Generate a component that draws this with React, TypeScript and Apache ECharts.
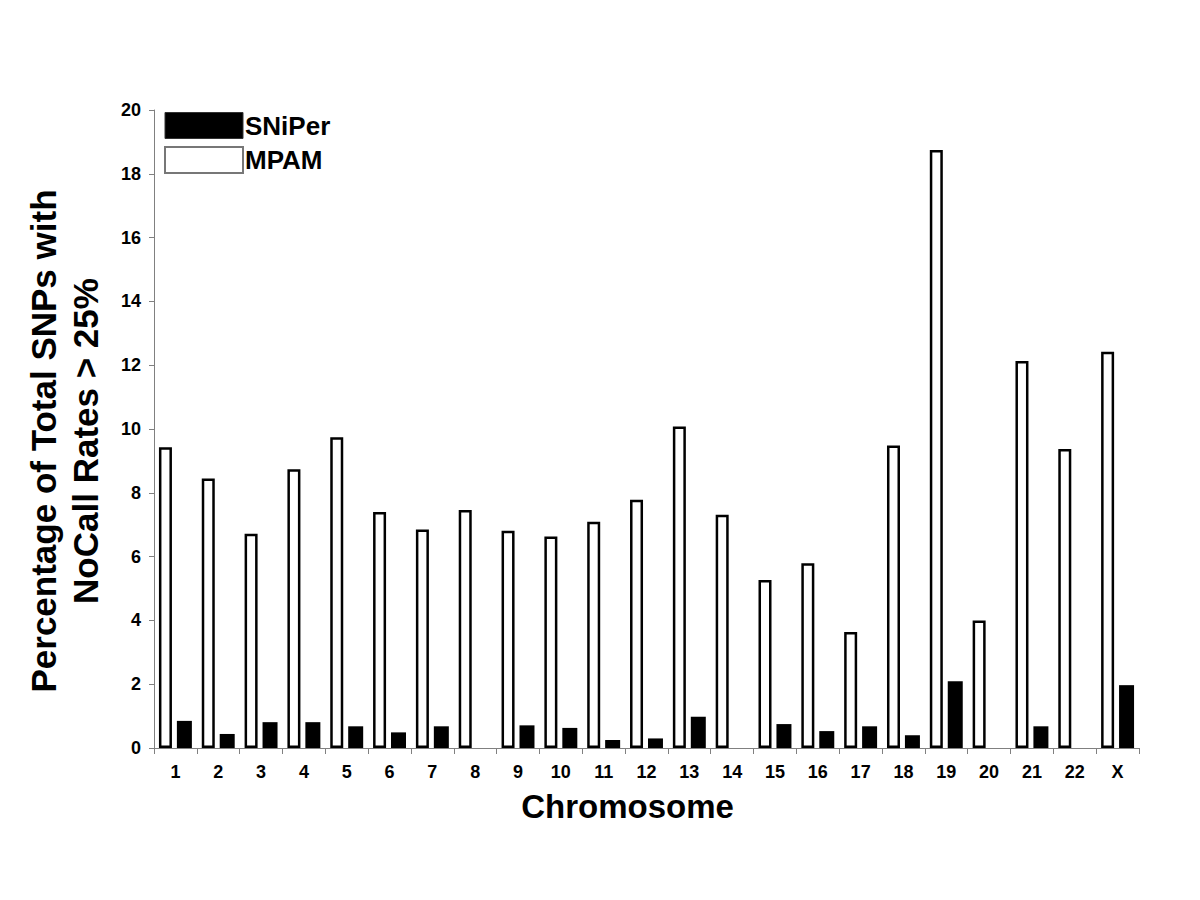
import React, { useEffect, useRef } from "react";
import * as echarts from "echarts";

const categories = ["1","2","3","4","5","6","7","8","9","10","11","12","13","14","15","16","17","18","19","20","21","22","X"];
const mpam = [9.43, 8.45, 6.72, 8.74, 9.74, 7.40, 6.85, 7.46, 6.81, 6.63, 7.09, 7.78, 10.08, 7.31, 5.27, 5.79, 3.64, 9.48, 18.75, 4.00, 12.13, 9.37, 12.42];
const sniper = [0.85, 0.44, 0.81, 0.81, 0.68, 0.49, 0.68, 0, 0.71, 0.63, 0.25, 0.30, 0.98, 0, 0.75, 0.53, 0.68, 0.40, 2.09, 0, 0.68, 0, 1.97];
const yTicks = { min: 0, max: 20, interval: 2 };

const FONT = "'Liberation Sans', Arial, sans-serif";

export default function App() {
  const ref = useRef<HTMLDivElement>(null);
  useEffect(() => {
    if (!ref.current) return;
    const chart = echarts.init(ref.current, undefined, { renderer: "svg" });
    chart.setOption({
      animation: false,
      backgroundColor: "#ffffff",
      textStyle: { fontFamily: FONT },
      grid: { left: 154, right: 61, top: 110, bottom: 152 },
      legend: {
        orient: "vertical",
        left: 159,
        top: 107,
        padding: 5,
        icon: "rect",
        itemWidth: 78,
        itemHeight: 26,
        itemGap: 7,
        selectedMode: false,
        textStyle: { fontFamily: FONT, fontSize: 26, fontWeight: "bold", color: "#000", padding: [0, 0, 0, -3] },
        data: [
          { name: "SNiPer", itemStyle: { color: "#000", borderColor: "#333", borderWidth: 1 } },
          { name: "MPAM", itemStyle: { color: "#fff", borderColor: "#777", borderWidth: 2 } },
        ],
      },
      xAxis: {
        type: "category",
        data: categories,
        name: "Chromosome",
        nameLocation: "middle",
        nameGap: 42,
        nameTextStyle: { fontFamily: FONT, fontSize: 33, fontWeight: "bold", color: "#000", verticalAlign: "top", padding: [0, 38, 0, 0] },
        axisLine: { lineStyle: { color: "#808080", width: 1 } },
        axisTick: { show: true, length: 6, lineStyle: { color: "#808080" } },
        axisLabel: { fontFamily: FONT, fontSize: 18, fontWeight: "bold", color: "#000", margin: 15, interval: 0 },
      },
      yAxis: {
        type: "value",
        min: yTicks.min,
        max: yTicks.max,
        interval: yTicks.interval,
        name: "Percentage of Total SNPs with\nNoCall Rates > 25%",
        nameLocation: "middle",
        nameGap: 48,
        nameTextStyle: { fontFamily: FONT, fontSize: 35, fontWeight: "bold", color: "#000", lineHeight: 42, padding: [0, 24, 0, 0] },
        splitLine: { show: false },
        axisLine: { show: true, lineStyle: { color: "#808080", width: 1 } },
        axisTick: { show: true, length: 5, lineStyle: { color: "#808080" } },
        axisLabel: { fontFamily: FONT, fontSize: 18, fontWeight: "bold", color: "#000", margin: 13 },
      },
      series: [
        {
          name: "MPAM",
          type: "bar",
          data: mpam,
          barWidth: 13,
          barGap: "38%",
          itemStyle: { color: "#ffffff", borderColor: "#000000", borderWidth: 2.5 },
        },
        {
          name: "SNiPer",
          type: "bar",
          data: sniper,
          barWidth: 15,
          itemStyle: { color: "#000000" },
        },
      ],
    });
    return () => chart.dispose();
  }, []);
  return <div ref={ref} style={{ width: 1200, height: 900, margin: -8 }} />;
}
